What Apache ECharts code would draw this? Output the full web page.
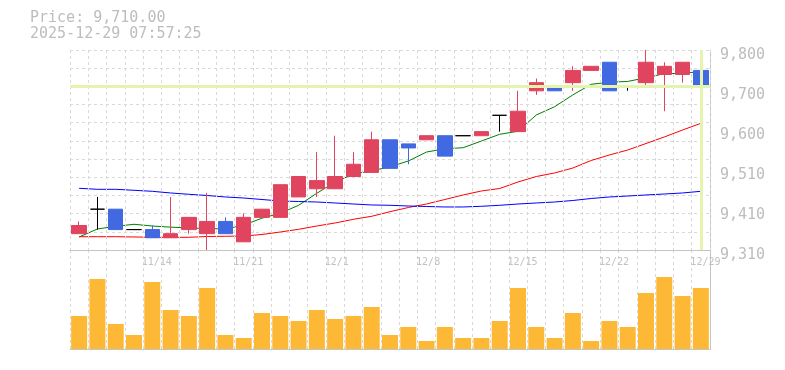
<!DOCTYPE html>
<html>
<head>
<meta charset="utf-8">
<style>
html,body{margin:0;padding:0;background:#fff;}
#chart{width:785px;height:370px;}
</style>
<script src="https://cdn.jsdelivr.net/npm/echarts@6/dist/echarts.min.js"></script>
</head>
<body>
<div id="chart"></div>
<script>
// ---- data ----
var dates = ['11/10','11/11','11/12','11/13','11/14','11/17','11/18','11/19','11/20','11/21',
  '11/25','11/26','11/27','11/28','12/1','12/2','12/3','12/4','12/5','12/8',
  '12/9','12/10','12/11','12/12','12/15','12/16','12/17','12/18','12/19','12/22',
  '12/23','12/24','12/25','12/26','12/29'];
var tickLabels = ['11/14','11/21','12/1','12/8','12/15','12/22','12/29'];
var opens  = [9350,9410,9410,9360,9360,9340,9360,9350,9380,9330,9390,9390,9440,9460,9460,9490,9500,9580,9570,9580,9590,9590,9590,9640,9600,9700,9710,9720,9750,9770,9710,9720,9740,9740,9750];
var closes = [9370,9410,9360,9360,9340,9350,9390,9380,9350,9390,9410,9470,9490,9480,9490,9520,9580,9510,9560,9590,9540,9590,9600,9640,9650,9720,9700,9750,9760,9700,9710,9770,9760,9770,9710];
var lows   = [9350,9360,9360,9360,9340,9340,9350,9310,9350,9330,9390,9390,9440,9440,9460,9490,9500,9510,9520,9580,9540,9590,9590,9600,9600,9690,9700,9700,9750,9700,9700,9710,9650,9720,9650];
var highs  = [9380,9440,9410,9360,9370,9440,9390,9450,9390,9400,9410,9470,9490,9550,9590,9550,9600,9580,9570,9590,9590,9590,9600,9640,9700,9730,9710,9760,9760,9770,9710,9800,9770,9770,9780];
var maShort = [9341.9,9361.5,9368,9373,9368.8,9366,9364,9362.7,9361.5,9371,9388,9400,9419.5,9449,9476.6,9496,9504,9514,9528,9550,9558,9560.6,9577,9593.5,9601,9640.8,9661,9690,9716,9721,9723,9732,9742,9743,9747];
var maMid = [9342.6,9342.6,9342.6,9341.9,9341.1,9341.1,9341.1,9343.1,9343.6,9344.3,9348,9354.1,9360.7,9368.8,9376.2,9385.2,9392.6,9403.8,9414.1,9422.7,9433.7,9444.8,9454.6,9460.7,9476.6,9490,9498.7,9510.9,9529.3,9542.8,9555,9570.9,9586.9,9604,9620.4];
var maLong = [9461.2,9458.7,9458.7,9456.3,9453.8,9449.7,9446.5,9443.5,9439.9,9437.4,9433.7,9430,9428.8,9427.6,9425.2,9422.7,9420.3,9419.5,9417.8,9416.6,9415.4,9415.4,9417.1,9419.5,9422.7,9425.2,9427.6,9431.3,9436.2,9439.9,9442.3,9444.8,9447.2,9449.7,9453.8];
var volumes = [33,70,25,14,67,39,33,61,14,11,36,33,28,39,30,33,42,14,22,8,22,11,11,28,61,22,11,36,8,28,22,56,72,53,61];
var lastPrice = 9710;
var priceText = 'Price: 9,710.00';
var timeText = '2025-12-29 07:57:25';

// ---- chart ----
var MONO = '"DejaVu Sans Mono", "Liberation Mono", monospace';
var gridDash = { color: '#d9d9d9', type: [3, 3], width: 1 };
var axisCol = '#c4c4c4';

var ohlc = opens.map(function (o, i) { return [o, closes[i], lows[i], highs[i]]; });

function fmtPrice(v) {
  var r = Math.round(v / 10) * 10;
  return r.toString().replace(/\B(?=(\d{3})+(?!\d))/g, ',');
}

var chart = echarts.init(document.getElementById('chart'), null, { renderer: 'canvas' });
chart.setOption({
  animation: false,
  backgroundColor: '#fff',
  title: {
    text: priceText + '\n' + timeText,
    left: 30, top: 10.5, padding: 0,
    textStyle: { fontFamily: MONO, fontSize: 15, fontWeight: 'normal', color: '#bdbdbd', lineHeight: 15.5 }
  },
  grid: [
    { left: 70, right: 75, top: 50, height: 200 },
    { left: 70, right: 75, top: 250, height: 99 }
  ],
  xAxis: [
    {
      type: 'category', gridIndex: 0, data: dates, boundaryGap: true,
      axisLine: { show: true, lineStyle: { color: axisCol, width: 1 } },
      axisTick: { show: false },
      axisLabel: {
        interval: function (i, v) { return tickLabels.indexOf(v) >= 0; },
        color: '#c2c2c2', fontFamily: MONO, fontSize: 10, margin: 7,
        formatter: function (v) { return '{a|' + v + '}'; },
        rich: { a: { width: 21, align: 'left', fontFamily: MONO, fontSize: 10, color: '#c2c2c2' } }
      },
      splitLine: { show: true, interval: 0, lineStyle: gridDash },
      z: 5
    },
    {
      type: 'category', gridIndex: 1, data: dates, boundaryGap: true,
      axisLine: { show: true, lineStyle: { color: axisCol, width: 1 } },
      axisTick: { show: false },
      axisLabel: { show: false },
      splitLine: { show: true, interval: 0, lineStyle: gridDash }
    }
  ],
  yAxis: [
    {
      type: 'value', gridIndex: 0, position: 'right',
      min: 9310, max: 9800, interval: 98,
      axisLine: { show: true, lineStyle: { color: axisCol, width: 1 } },
      axisTick: { show: false },
      splitLine: { show: false },
      axisLabel: {
        color: '#bdbdbd', fontFamily: MONO, fontSize: 15, margin: 10,
        verticalAlign: 'top', lineHeight: 10,
        formatter: fmtPrice
      }
    },
    {
      type: 'value', gridIndex: 0, position: 'left',
      min: 0, max: 11, interval: 1,
      axisLine: { show: false }, axisTick: { show: false }, axisLabel: { show: false },
      splitLine: { show: true, lineStyle: gridDash }
    },
    {
      type: 'value', gridIndex: 1, position: 'right',
      min: 0, max: 99,
      axisLine: { show: true, lineStyle: { color: axisCol, width: 1 } },
      axisTick: { show: false }, axisLabel: { show: false },
      splitLine: { show: false }
    }
  ],
  series: [
    {
      name: 'current', type: 'line', xAxisIndex: 0, yAxisIndex: 0, data: [],
      z: 1, silent: true,
      markLine: {
        silent: true, symbol: 'none', label: { show: false },
        lineStyle: { color: '#e4f4ac', width: 3, type: 'solid' },
        data: [ { yAxis: lastPrice }, { xAxis: dates[dates.length - 1] } ]
      }
    },
    { name: 'MA short', type: 'line', xAxisIndex: 0, yAxisIndex: 0, data: maShort, z: 2,
      symbol: 'none', lineStyle: { color: '#008000', width: 1 } },
    { name: 'MA mid', type: 'line', xAxisIndex: 0, yAxisIndex: 0, data: maMid, z: 2,
      symbol: 'none', lineStyle: { color: '#ff0000', width: 1 } },
    { name: 'MA long', type: 'line', xAxisIndex: 0, yAxisIndex: 0, data: maLong, z: 2,
      symbol: 'none', lineStyle: { color: '#0000ff', width: 1 } },
    {
      name: 'price', type: 'candlestick', xAxisIndex: 0, yAxisIndex: 0, data: ohlc, z: 3,
      barWidth: 15,
      itemStyle: {
        color: '#e0445e', color0: '#4169e1',
        borderColor: '#e0445e', borderColor0: '#4169e1',
        borderColorDoji: '#000000', borderWidth: 1
      }
    },
    {
      name: 'volume', type: 'bar', xAxisIndex: 1, yAxisIndex: 2, data: volumes,
      barWidth: 16, itemStyle: { color: '#fdb835' }
    }
  ]
});
</script>
</body>
</html>
